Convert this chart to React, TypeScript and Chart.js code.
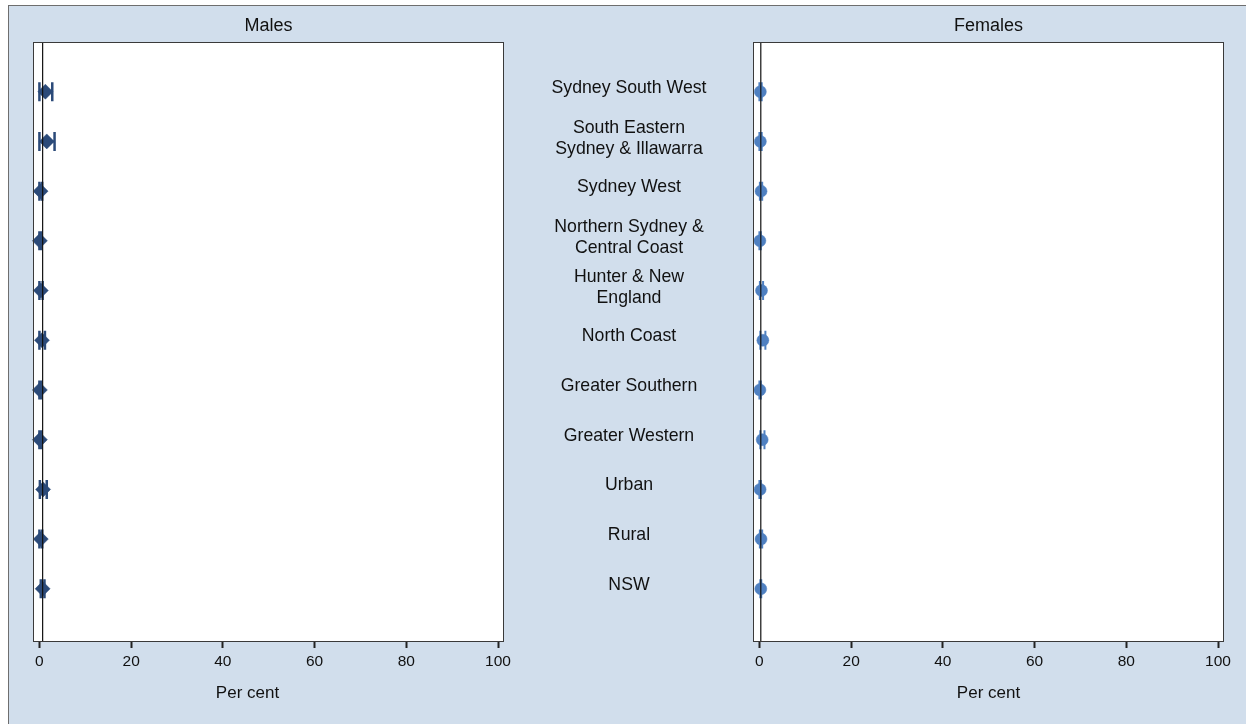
import React, { useEffect, useRef } from "react";
import { Chart, registerables } from "chart.js";
Chart.register(...registerables);

// ---- data ----
const regionLabels: string[][] = [
  ["Sydney South West"],
  ["South Eastern", "Sydney & Illawarra"],
  ["Sydney West"],
  ["Northern Sydney &", "Central Coast"],
  ["Hunter & New", "England"],
  ["North Coast"],
  ["Greater Southern"],
  ["Greater Western"],
  ["Urban"],
  ["Rural"],
  ["NSW"],
];
const maleEst = [1.3, 1.6, 0.25, 0.1, 0.3, 0.55, 0.1, 0.1, 0.8, 0.3, 0.7];
const maleLo = [0.0, 0.0, 0.0, 0.0, 0.0, 0.0, 0.0, 0.0, 0.1, 0.0, 0.3];
const maleHi = [2.8, 3.3, 0.6, 0.3, 0.7, 1.2, 0.3, 0.4, 1.6, 0.6, 1.1];
const femaleEst = [0.2, 0.2, 0.35, 0.1, 0.45, 0.75, 0.1, 0.6, 0.15, 0.35, 0.3];
const femaleLo = [0.0, 0.0, 0.1, 0.0, 0.1, 0.2, 0.0, 0.2, 0.0, 0.1, 0.2];
const femaleHi = [0.5, 0.5, 0.6, 0.3, 0.8, 1.3, 0.3, 1.1, 0.3, 0.6, 0.4];
const xTicks = [0, 20, 40, 60, 80, 100];
const panelTitles = ["Males", "Females"];
const axisTitle = "Per cent";

const FONT = "'Liberation Sans', Arial, sans-serif";
const BG = "#d1deec";

type PanelOpts = {
  est: number[];
  lo: number[];
  hi: number[];
  color: string;
  pointStyle: string;
  radius: number;
  capWidth: number;
  title: string;
  axisTitleShift: number;
  padding: { left: number; right: number; top: number; bottom: number };
  drawLabels: boolean;
  labelX: number;
};

function makePanel(canvas: HTMLCanvasElement, o: PanelOpts) {
  const panelPlugin = {
    id: "panel",
    beforeDraw(chart: any) {
      const { ctx, chartArea: a } = chart;
      ctx.save();
      ctx.fillStyle = "#ffffff";
      ctx.fillRect(a.left, a.top, a.right - a.left, a.bottom - a.top);
      ctx.restore();
    },
    beforeDatasetsDraw(chart: any) {
      const { ctx } = chart;
      const xs = chart.scales.x;
      const ys = chart.scales.y;
      ctx.save();
      ctx.strokeStyle = o.color;
      o.est.forEach((_, i) => {
        const y = ys.getPixelForValue(i + 1);
        const xl = xs.getPixelForValue(o.lo[i]);
        const xh = xs.getPixelForValue(o.hi[i]);
        ctx.lineWidth = 2;
        ctx.beginPath();
        ctx.moveTo(xl, y);
        ctx.lineTo(xh, y);
        ctx.stroke();
        ctx.lineWidth = o.capWidth;
        ctx.beginPath();
        ctx.moveTo(xl, y - 9.5);
        ctx.lineTo(xl, y + 9.5);
        ctx.moveTo(xh, y - 9.5);
        ctx.lineTo(xh, y + 9.5);
        ctx.stroke();
      });
      ctx.restore();
    },
    afterDatasetsDraw(chart: any) {
      const { ctx, chartArea: a } = chart;
      const xs = chart.scales.x;
      const ys = chart.scales.y;
      ctx.save();
      // reference line at overall (NSW) value
      const refX = xs.getPixelForValue(o.est[o.est.length - 1]);
      ctx.strokeStyle = "#111111";
      ctx.lineWidth = 1.2;
      ctx.beginPath();
      ctx.moveTo(refX, a.top);
      ctx.lineTo(refX, a.bottom);
      ctx.stroke();
      // frame
      ctx.strokeStyle = "#3a3a3a";
      ctx.lineWidth = 1;
      ctx.strokeRect(a.left + 0.5, a.top + 0.5, a.right - a.left - 1, a.bottom - a.top);
      // panel title
      ctx.fillStyle = "#111111";
      ctx.font = `18px ${FONT}`;
      ctx.textAlign = "center";
      ctx.textBaseline = "middle";
      ctx.fillText(o.title, (a.left + a.right) / 2, a.top - 16);
      // axis title
      ctx.font = `17px ${FONT}`;
      ctx.fillText(axisTitle, (a.left + a.right) / 2 + o.axisTitleShift, a.bottom + 52);
      // region labels
      if (o.drawLabels) {
        ctx.font = `17.7px ${FONT}`;
        regionLabels.forEach((lines, i) => {
          const lh = 20.5;
          const yc = ys.getPixelForValue(i + 1) - (lines.length > 1 ? 3 : 4);
          const start = yc - ((lines.length - 1) * lh) / 2;
          lines.forEach((t, k) => ctx.fillText(t, o.labelX, start + k * lh));
        });
      }
      ctx.restore();
    },
  };

  return new Chart(canvas, {
    type: "scatter",
    data: {
      datasets: [
        {
          data: o.est.map((v, i) => ({ x: v, y: i + 1 })),
          pointStyle: o.pointStyle as any,
          pointRadius: o.radius,
          backgroundColor: o.color,
          borderColor: o.color,
          borderWidth: 0.5,
          showLine: false,
          clip: false as any,
        },
      ],
    },
    options: {
      animation: false,
      responsive: false,
      events: [],
      layout: { padding: o.padding },
      plugins: { legend: { display: false }, tooltip: { enabled: false } },
      scales: {
        x: {
          type: "linear",
          min: -1.4,
          max: 101.3,
          afterBuildTicks: (s: any) => {
            s.ticks = xTicks.map((v) => ({ value: v }));
          },
          afterFit: (s: any) => {
            s.height = 83;
          },
          ticks: {
            font: { size: 15.5, family: FONT },
            color: "#111111",
            padding: 4,
            maxRotation: 0,
            autoSkip: false,
          },
          grid: {
            drawOnChartArea: false,
            drawTicks: true,
            tickLength: 7,
            tickWidth: 2,
            tickColor: "#222222",
          },
          border: { display: false },
          title: { display: false },
        },
        y: {
          type: "linear",
          min: 0,
          max: 12.05,
          reverse: true,
          display: false,
        },
      },
    },
    plugins: [panelPlugin],
  } as any);
}

export default function App() {
  const leftRef = useRef<HTMLCanvasElement>(null);
  const rightRef = useRef<HTMLCanvasElement>(null);

  useEffect(() => {
    const c1 = makePanel(leftRef.current!, {
      est: maleEst,
      lo: maleLo,
      hi: maleHi,
      color: "#2b4a79",
      pointStyle: "rectRot",
      radius: 7.5,
      capWidth: 2.5,
      title: panelTitles[0],
      axisTitleShift: -21,
      padding: { left: 24, right: 235, top: 36, bottom: 0 },
      drawLabels: true,
      labelX: 620,
    });
    const c2 = makePanel(rightRef.current!, {
      est: femaleEst,
      lo: femaleLo,
      hi: femaleHi,
      color: "#4f80c1",
      pointStyle: "circle",
      radius: 6,
      capWidth: 2,
      title: panelTitles[1],
      axisTitleShift: 0,
      padding: { left: 13, right: 22, top: 36, bottom: 0 },
      drawLabels: false,
      labelX: 0,
    });
    return () => {
      c1.destroy();
      c2.destroy();
    };
  }, []);

  return (
    <div
      style={{
        position: "absolute",
        left: 8,
        top: 5,
        width: 1238,
        height: 719,
        boxSizing: "border-box",
        borderTop: "1px solid #6e6e6e",
        borderLeft: "1px solid #6e6e6e",
        background: BG,
        overflow: "hidden",
      }}
    >
      <canvas
        ref={leftRef}
        width={730}
        height={718}
        style={{ position: "absolute", left: 0, top: 0, width: 730, height: 718, display: "block" }}
      />
      <canvas
        ref={rightRef}
        width={506}
        height={718}
        style={{ position: "absolute", left: 731, top: 0, width: 506, height: 718, display: "block" }}
      />
    </div>
  );
}
